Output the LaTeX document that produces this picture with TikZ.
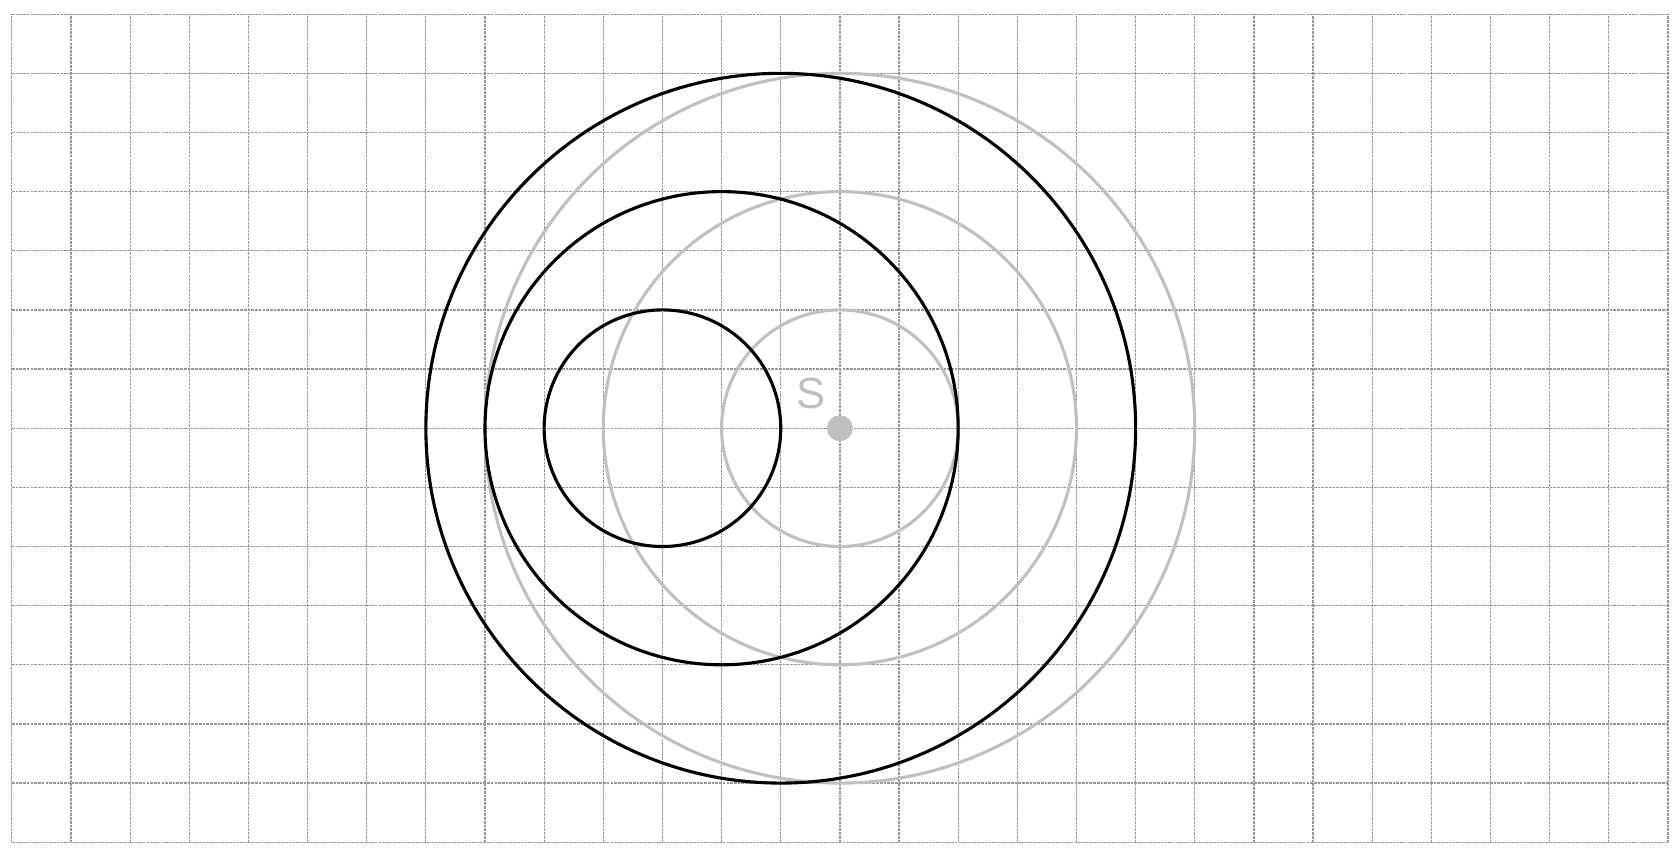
\documentclass[tikz,border=0pt]{standalone}
\usepackage{fontspec}
\setsansfont{Liberation Sans}
\definecolor{gridgray}{RGB}{150,150,150}
\definecolor{orbitgray}{RGB}{192,192,192}
\begin{document}
\begin{tikzpicture}[x=1cm,y=1cm,
	gridline/.style={gridgray,line width=0.6pt,dash pattern=on 1.3pt off 0.5pt},
	orbit/.style={line width=1.5pt}]
		\useasboundingbox (-0.2,-0.12) rectangle (28.17,14.24);
		\draw[gridline] (0,0) grid (28,14);
		\foreach \r in {2,4,6}
			\draw[orbit,orbitgray] (14,7) circle (\r);
		\foreach \r/\c in {2/11,4/12,6/13}
			\draw[orbit,black] (\c,7) circle (\r);
		\node[circle,fill=orbitgray,inner sep=0pt,minimum size=0.44cm] (sun) at (14,7) {};
		\node[orbitgray,font=\sffamily\fontsize{21}{24}\selectfont] (sunlabel) at (13.52,7.58) {S};
		\end{tikzpicture}
\end{document}
